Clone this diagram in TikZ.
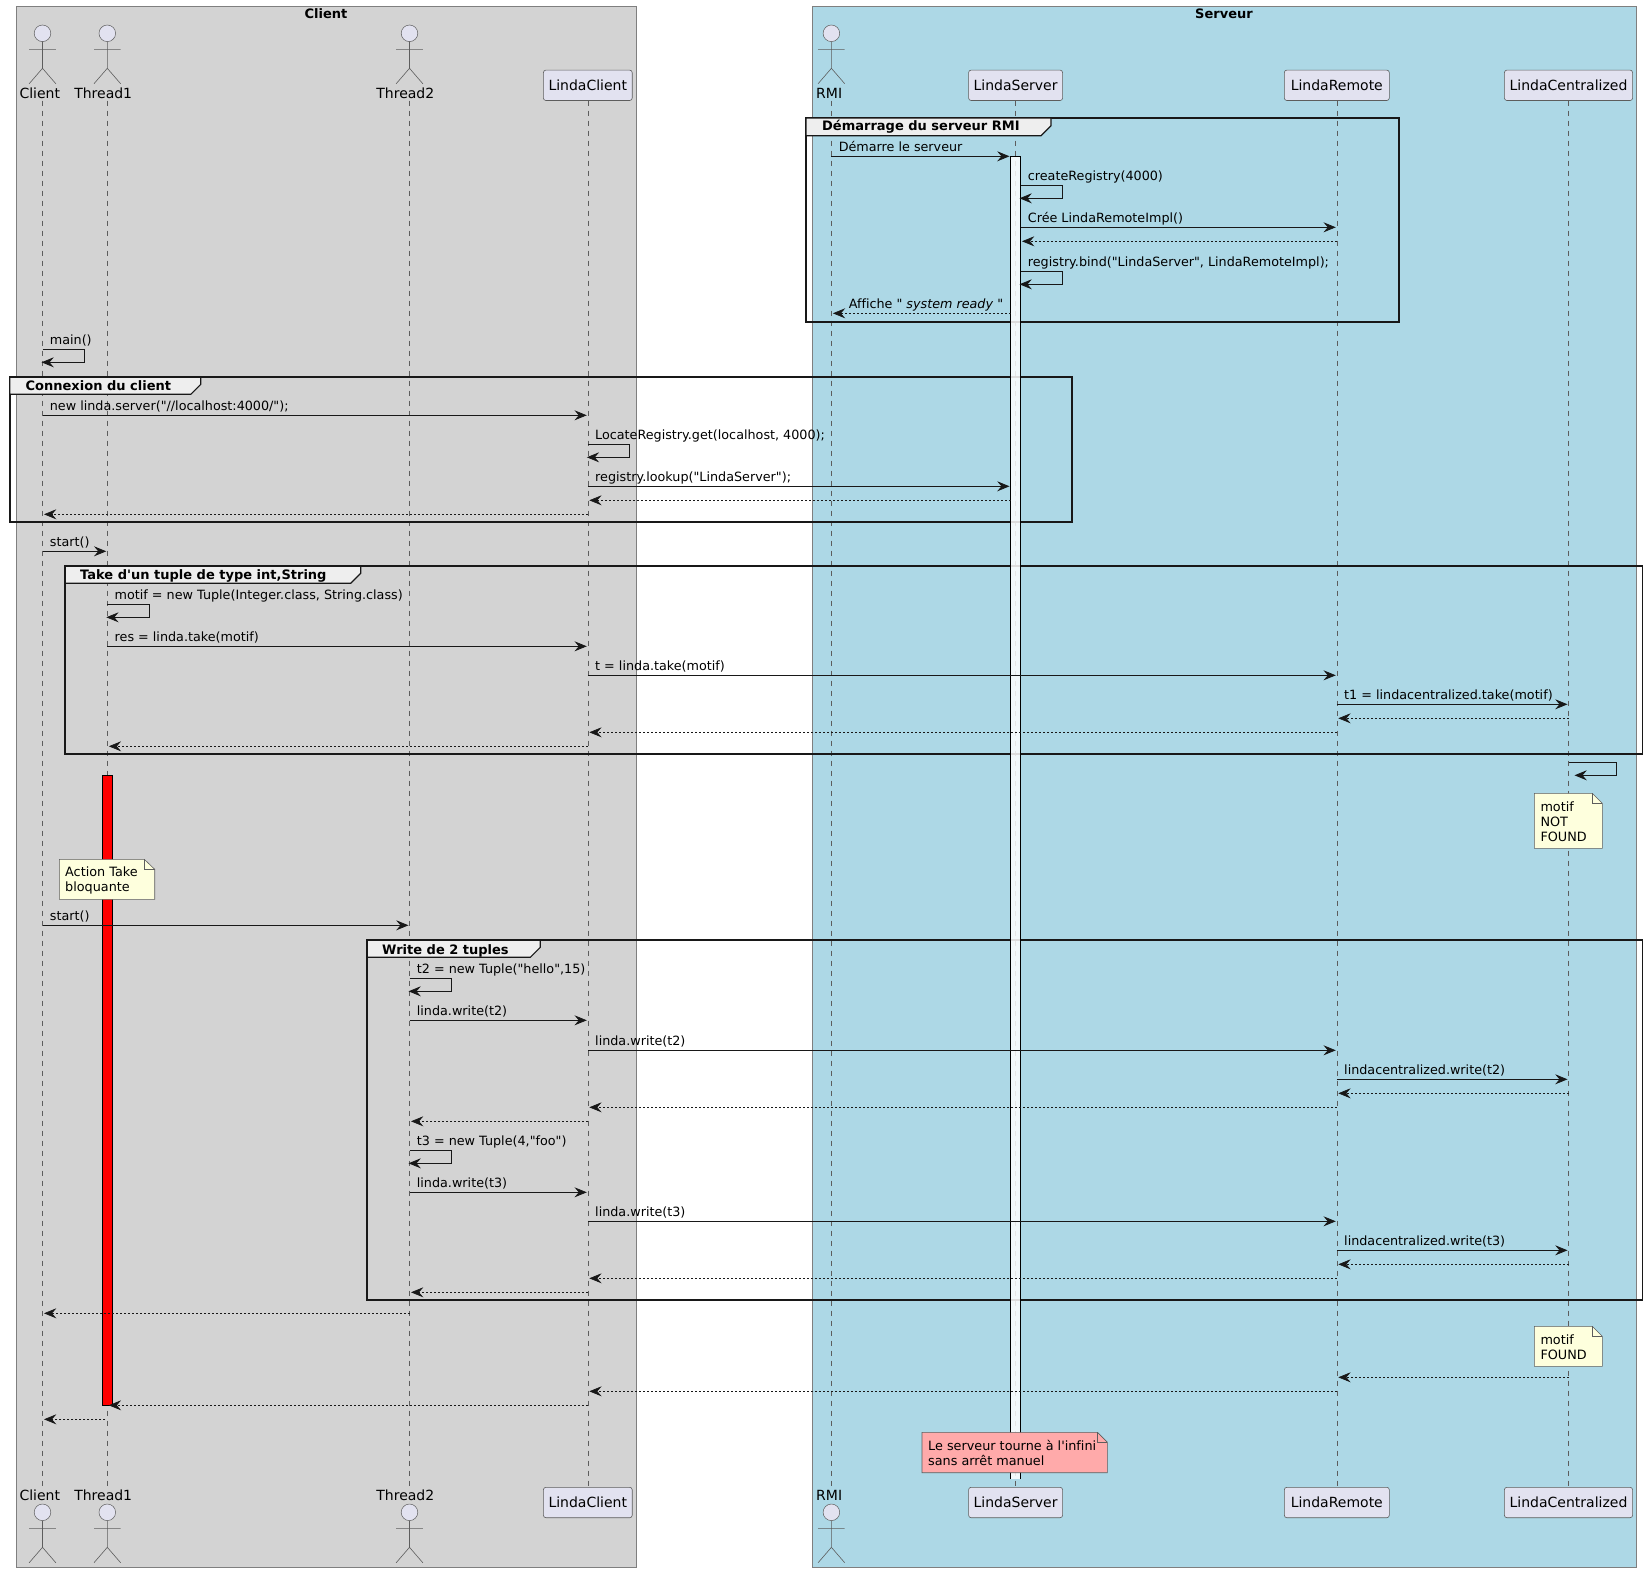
\documentclass[tikz,border=0pt]{standalone}
\usepackage{fontspec}
\usepackage{xcolor}
\usetikzlibrary{arrows.meta,positioning}

\newfontfamily\seqfont{DejaVu Sans}[Ligatures=NoCommon]

\definecolor{seqline}{HTML}{181818}
\definecolor{thinline}{HTML}{5D5D5D}
\definecolor{partfill}{HTML}{E2E2F0}
\definecolor{clientbox}{HTML}{D3D3D3}
\definecolor{serverbox}{HTML}{ADD8E6}
\definecolor{boxline}{HTML}{7F7F7F}
\definecolor{grouptab}{HTML}{EEEEEE}
\definecolor{notefill}{HTML}{FEFFDD}
\definecolor{notered}{HTML}{FFAAAA}

\tikzset{
    boxarea/.style={draw=boxline, line width=0.8pt},
    boxtitle/.style={font=\seqfont\bfseries\fontsize{13}{15}\selectfont, anchor=base, inner sep=0pt},
    actorhead/.style={circle, draw=thinline, line width=0.5pt, fill=partfill, minimum size=16.6pt, inner sep=0pt},
    actorname/.style={font=\seqfont\fontsize{14}{16}\selectfont, anchor=base, inner sep=0pt, text=black},
    participant/.style={draw=thinline, line width=0.6pt, fill=partfill, rounded corners=2.5pt, minimum height=30.4pt,
        inner sep=0pt, font=\seqfont\fontsize{14}{16}\selectfont},
    lifeline/.style={draw=thinline, line width=0.5pt, dash pattern=on 5pt off 5pt},
    actorman/.pic={
        \draw[thinline, line width=0.6pt] (0,8.3) -- (0,35) -- (-13.3,50.4) (0,35) -- (13.3,50.4) (-13.3,16) -- (13.3,16);
    },
    groupframe/.style={draw=seqline, line width=1.8pt},
    grouptabshape/.style={draw=seqline, line width=1.2pt, fill=grouptab},
    grouptitle/.style={font=\seqfont\bfseries\fontsize{13}{15}\selectfont, anchor=base west, inner sep=0pt},
    msg/.style={draw=seqline, line width=0.8pt, -{Stealth[length=12.3pt,width=10pt,inset=4.3pt]}, shorten >=1pt},
    ret/.style={msg, line width=0.7pt, dash pattern=on 2pt off 2pt, shorten >=1.5pt},
    selfmsg/.style={msg, shorten >=-1pt},
    lbl/.style={font=\seqfont\fontsize{12.75}{15}\selectfont, anchor=base west, inner sep=0pt, xshift=7pt, yshift=4.4pt},
    actbar/.style={draw=black, line width=0.8pt, minimum width=9.6pt, inner sep=0pt},
    notepath/.style={draw=thinline, line width=0.6pt},
    notetext/.style={font=\seqfont\fontsize{12.8}{15}\selectfont, anchor=base west, inner sep=0pt, align=left, yshift=-0.6pt},
}

\begin{document}
\begin{tikzpicture}[x=1pt, y=-1pt]
    \useasboundingbox (0,0) rectangle (1647,1572);

    % boxes
    \draw[boxarea, fill=clientbox] (16.4,6.5) rectangle (636.4,1567);
    \node[boxtitle] (clientboxtitle) at (326,18) {Client};
    \draw[boxarea, fill=serverbox] (812.6,6.5) rectangle (1636.3,1567);
    \node[boxtitle] (serverboxtitle) at (1224,18) {Serveur};

    % participants, top and bottom
    \foreach \name/\x/\txt/\tx in {client/42.5/Client/39.8, thread1/107.3/Thread1/103.2, thread2/409.5/Thread2/405.3, rmi/831.4/RMI/829.2}{
        \node[actorhead] (\name) at (\x,33.3) {};
        \pic at (\name) {actorman};
        \node[actorname] (\name lbl) at (\tx,98.4) {\txt};
        \node[actorhead] (\name b) at (\x,1512.3) {};
        \pic at (\name b) {actorman};
        \node[actorname] (\name lblb) at (\tx,1500.6) {\txt};
    }
    \foreach \name/\x/\w/\txt in {lindaclient/587.8/88.8/LindaClient, lindaserver/1015.6/94/LindaServer,
        lindaremote/1336.8/105/LindaRemote, lindacentralized/1568.5/128.2/LindaCentralized}{
        \node[participant, minimum width=\w pt] (\name) at (\x,85.3) {\txt};
        \node[participant, minimum width=\w pt] (\name b) at (\x,1502.5) {\txt};
    }

    % lifelines
    \coordinate (lifetop) at (0,100.5);
    \coordinate (lifebot) at (0,1487.3);
    \foreach \name in {client,thread1,thread2,lindaclient,rmi,lindaserver,lindaremote,lindacentralized}{
        \draw[lifeline] (\name |- lifetop) -- (\name |- lifebot);
    }

    % groups
    \draw[groupframe] (806,118) rectangle (1399.3,321.7);
    \draw[grouptabshape] (806,118) -- (1051,118) -- (1051,125.7) -- (1041,135.7) -- (806,135.7) -- cycle;
    \node[grouptitle] (groupstart) at (822,130.7) {Démarrage du serveur RMI};

    \draw[groupframe] (9.7,377.3) rectangle (1072.3,522.3);
    \draw[grouptabshape] (9.7,377.3) -- (200.8,377.3) -- (200.8,384.3) -- (190.8,394.3) -- (9.7,394.3) -- cycle;
    \node[grouptitle] (groupconnect) at (25.5,390) {Connexion du client};

    \draw[groupframe] (65.3,566.3) rectangle (1642.5,754);
    \draw[grouptabshape] (65.3,566.3) -- (360.7,566.3) -- (360.7,573.3) -- (350.7,583.3) -- (65.3,583.3) -- cycle;
    \node[grouptitle] (grouptake) at (80,579) {Take d'un tuple de type int,String};

    \draw[groupframe] (367.3,940.3) rectangle (1642.5,1300.3);
    \draw[grouptabshape] (367.3,940.3) -- (540.3,940.3) -- (540.3,947.3) -- (530.3,957.3) -- (367.3,957.3) -- cycle;
    \node[grouptitle] (groupwrite) at (382,954) {Write de 2 tuples};

    % activations
    \node[fill=white, fill opacity=0.85, minimum width=9.6pt, inner sep=0pt, minimum height=1322.4pt] (serverbar) at (1015.5,817.5) {};
    \draw[black, line width=0.8pt] (serverbar.south west) -- (serverbar.north west) -- (serverbar.north east) -- (serverbar.south east);
    \node[actbar, fill=red, minimum height=630.3pt] (takebar) at (107.5,1090.15) {};

    % message rows
    \foreach \y [count=\i] in {156.3,185.3,227.3,241.3,271.3,313.3,349.3,415.3,444.3,486.3,
        500.3,514.3,551.3,604.3,646.3,675.3,704.3,718.3,732.3,746.3,
        762.3,925.3,978.3,1020.3,1050.3,1079.3,1093.3,1107.3,1121.3,1150.3,
        1192.3,1221.3,1250.3,1264.3,1278.3,1292.3,1313.3,1377.3,1391.3,1405.3,1419.3}{
        \coordinate (m\i) at (0,\y);
    }

    % server start
    \draw[msg] (rmi |- m1) node[lbl] (lblstart) {Démarre le serveur} -- (serverbar.west |- m1);
    \draw[selfmsg] (serverbar.east |- m2) node[lbl] (lblregistry) {createRegistry(4000)} -- ++(42,0) -- ++(0,13) -- ++(-42,0);
    \draw[msg] (serverbar.east |- m3) node[lbl] (lblimpl) {Crée LindaRemoteImpl()} -- (lindaremote |- m3);
    \draw[ret] (lindaremote |- m4) -- (serverbar.east |- m4);
    \draw[selfmsg] (serverbar.east |- m5) node[lbl] (lblbind) {registry.bind("LindaServer", LindaRemoteImpl);} -- ++(42,0) -- ++(0,13) -- ++(-42,0);
    \draw[ret] (serverbar.west |- m6) -- (rmi |- m6) node[lbl, xshift=10pt] (lblready) {Affiche " \textit{system ready} "};

    % client connection
    \draw[selfmsg] (client |- m7) node[lbl] (lblmain) {main()} -- ++(42,0) -- ++(0,13) -- ++(-42,0);
    \draw[msg] (client |- m8) node[lbl] (lblnew) {new linda.server("//localhost:4000/");} -- (lindaclient |- m8);
    \draw[selfmsg] (lindaclient |- m9) node[lbl] (lbllocate) {LocateRegistry.get(localhost, 4000);} -- ++(42,0) -- ++(0,13) -- ++(-42,0);
    \draw[msg] (lindaclient |- m10) node[lbl] (lbllookup) {registry.lookup("LindaServer");} -- (serverbar.west |- m10);
    \draw[ret] (serverbar.west |- m11) -- (lindaclient |- m11);
    \draw[ret] (lindaclient |- m12) -- (client |- m12);

    % take
    \draw[msg] (client |- m13) node[lbl] (lblstarta) {start()} -- (thread1 |- m13);
    \draw[selfmsg] (thread1 |- m14) node[lbl] (lblmotif) {motif = new Tuple(Integer.class, String.class)} -- ++(42,0) -- ++(0,13) -- ++(-42,0);
    \draw[msg] (thread1 |- m15) node[lbl] (lblres) {res = linda.take(motif)} -- (lindaclient |- m15);
    \draw[msg] (lindaclient |- m16) node[lbl] (lblt) {t = linda.take(motif)} -- (lindaremote |- m16);
    \draw[msg] (lindaremote |- m17) node[lbl] (lblta) {t1 = lindacentralized.take(motif)} -- (lindacentralized |- m17);
    \draw[ret] (lindacentralized |- m18) -- (lindaremote |- m18);
    \draw[ret] (lindaremote |- m19) -- (lindaclient |- m19);
    \draw[ret] (lindaclient |- m20) -- (thread1 |- m20);
    \draw[selfmsg, shorten >=6pt] (lindacentralized |- m21) -- ++(47.4,0) -- ++(0,13) -- ++(-47.4,0);

    % notes
    \draw[notepath, fill=notefill] (1534.3,793.3) -- (1592.3,793.3) -- (1602.3,803.3) -- (1602.3,848.3) -- (1534.3,848.3) -- cycle;
    \draw[notepath] (1592.3,793.3) -- (1592.3,803.3) -- (1602.3,803.3);
    \node[notetext] (notemotif) at (1540.3,810.7) {motif};
    \node[notetext] (notenot) at (1540.3,826) {NOT};
    \node[notetext] (notefound) at (1540.3,841) {FOUND};

    \draw[notepath, fill=notefill] (59.3,859.3) -- (144.3,859.3) -- (154.7,869.3) -- (154.7,899.3) -- (59.3,899.3) -- cycle;
    \draw[notepath] (144.3,859.3) -- (144.3,869.3) -- (154.7,869.3);
    \node[notetext] (noteaction) at (65,876) {Action Take};
    \node[notetext] (notebloq) at (65,891) {bloquante};

    % write
    \draw[msg] (client |- m22) node[lbl] (lblstartb) {start()} -- (thread2 |- m22);
    \draw[selfmsg] (thread2 |- m23) node[lbl] (lbltb) {t2 = new Tuple("hello",15)} -- ++(42,0) -- ++(0,13) -- ++(-42,0);
    \draw[msg] (thread2 |- m24) node[lbl] (lblwb) {linda.write(t2)} -- (lindaclient |- m24);
    \draw[msg] (lindaclient |- m25) node[lbl] (lblwbb) {linda.write(t2)} -- (lindaremote |- m25);
    \draw[msg] (lindaremote |- m26) node[lbl] (lblwbc) {lindacentralized.write(t2)} -- (lindacentralized |- m26);
    \draw[ret] (lindacentralized |- m27) -- (lindaremote |- m27);
    \draw[ret] (lindaremote |- m28) -- (lindaclient |- m28);
    \draw[ret] (lindaclient |- m29) -- (thread2 |- m29);
    \draw[selfmsg] (thread2 |- m30) node[lbl] (lbltc) {t3 = new Tuple(4,"foo")} -- ++(42,0) -- ++(0,13) -- ++(-42,0);
    \draw[msg] (thread2 |- m31) node[lbl] (lblwc) {linda.write(t3)} -- (lindaclient |- m31);
    \draw[msg] (lindaclient |- m32) node[lbl] (lblwcb) {linda.write(t3)} -- (lindaremote |- m32);
    \draw[msg] (lindaremote |- m33) node[lbl] (lblwcc) {lindacentralized.write(t3)} -- (lindacentralized |- m33);
    \draw[ret] (lindacentralized |- m34) -- (lindaremote |- m34);
    \draw[ret] (lindaremote |- m35) -- (lindaclient |- m35);
    \draw[ret] (lindaclient |- m36) -- (thread2 |- m36);
    \draw[ret] (thread2 |- m37) -- (client |- m37);

    % found
    \draw[notepath, fill=notefill] (1534.3,1326.3) -- (1592.3,1326.3) -- (1602.3,1336.3) -- (1602.3,1366.3) -- (1534.3,1366.3) -- cycle;
    \draw[notepath] (1592.3,1326.3) -- (1592.3,1336.3) -- (1602.3,1336.3);
    \node[notetext] (notemotifb) at (1540.3,1344) {motif};
    \node[notetext] (notefoundb) at (1540.3,1359) {FOUND};

    \draw[ret] (lindacentralized |- m38) -- (lindaremote |- m38);
    \draw[ret] (lindaremote |- m39) -- (lindaclient |- m39);
    \draw[ret] (lindaclient |- m40) -- (thread1 |- m40);
    \draw[ret, shorten <=2pt] (thread1 |- m41) -- (client |- m41);

    \draw[notepath, fill=notered] (922,1432.3) -- (1097.4,1432.3) -- (1107.4,1442.3) -- (1107.4,1472.7) -- (922,1472.7) -- cycle;
    \draw[notepath] (1097.4,1432.3) -- (1097.4,1442.3) -- (1107.4,1442.3);
    \node[notetext] (noteinfini) at (928,1449.7) {Le serveur tourne à l'infini};
    \node[notetext] (notemanuel) at (928,1464.7) {sans arrêt manuel};
\end{tikzpicture}
\end{document}
